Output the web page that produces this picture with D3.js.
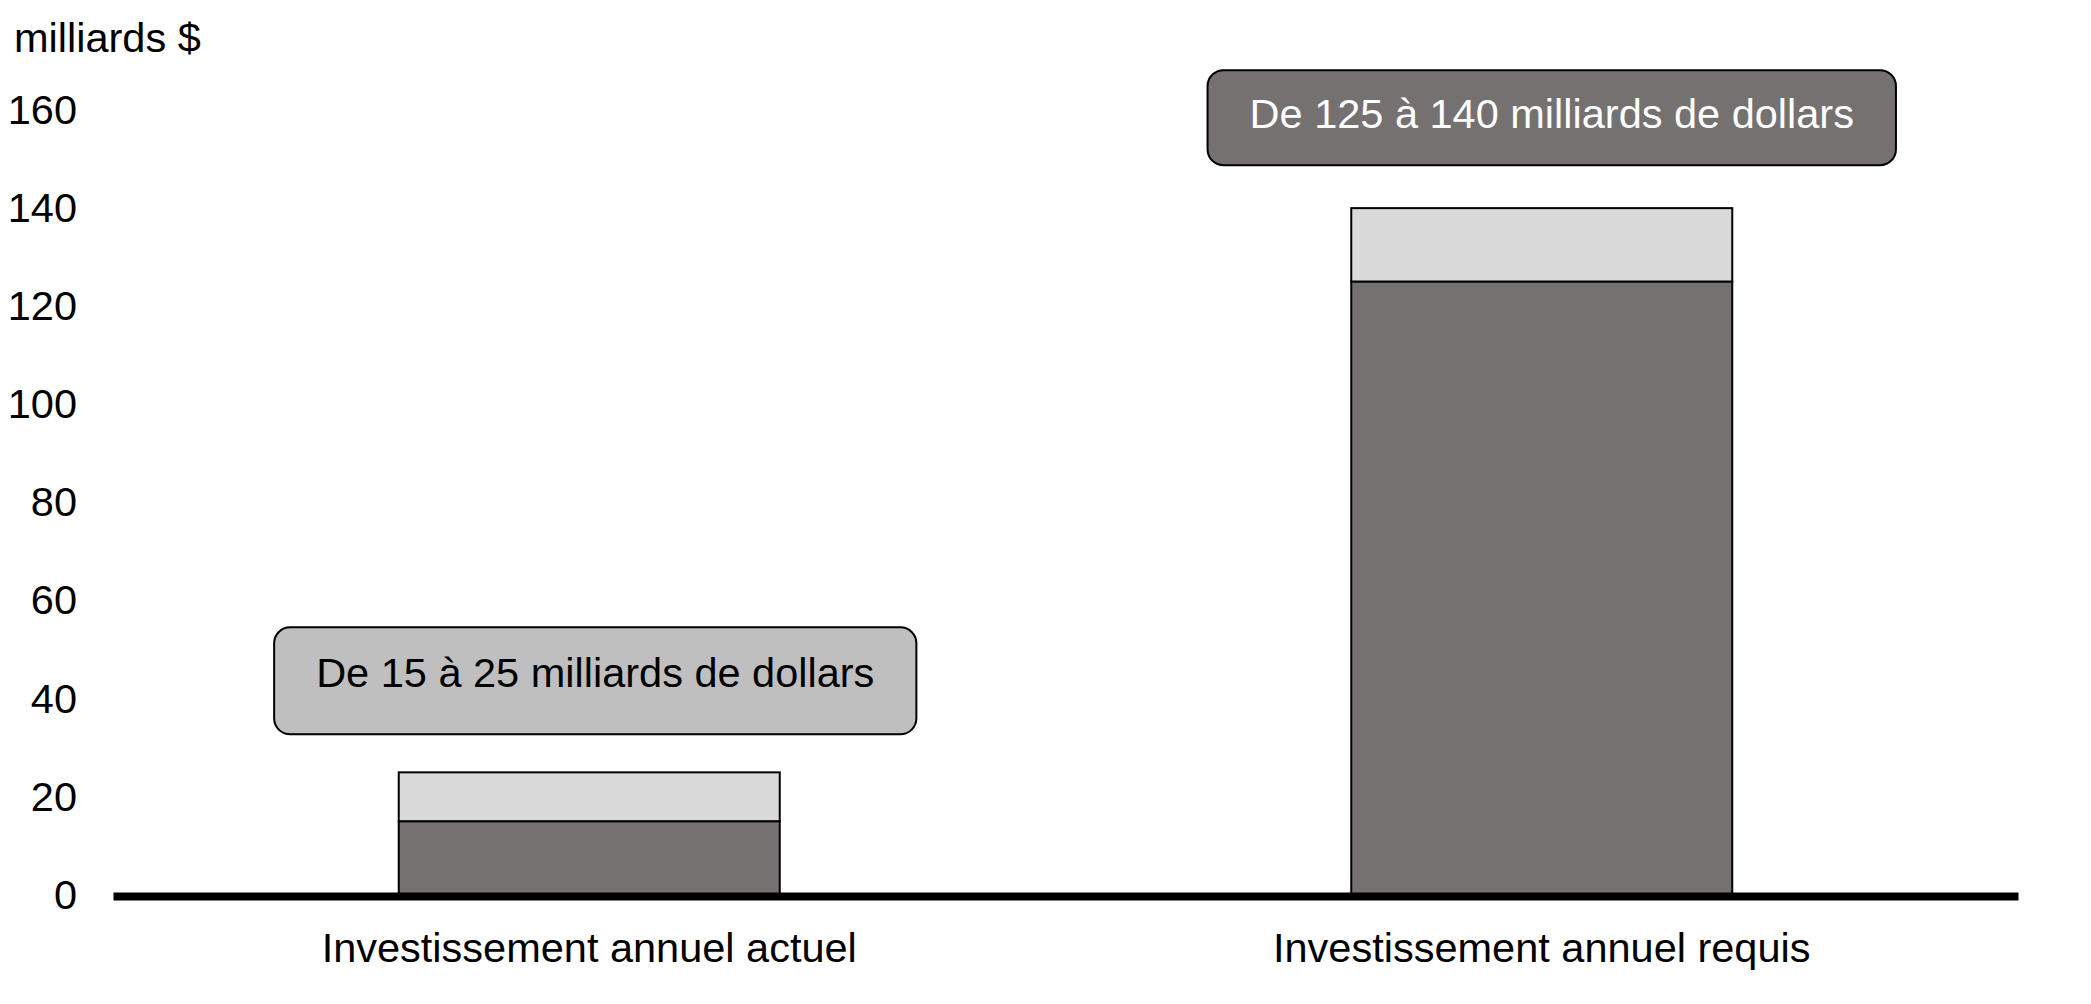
<!DOCTYPE html>
<html>
<head>
<meta charset="utf-8">
<script src="https://cdn.jsdelivr.net/npm/d3@7"></script>
<style>
  html, body { margin: 0; padding: 0; background: #ffffff; }
  svg { display: block; }
  text { font-family: "Liberation Sans", Arial, sans-serif; }
</style>
</head>
<body>
<svg id="chart" width="2091" height="1004"></svg>
<script>
// ---- Data ----
const categories = ["Investissement annuel actuel", "Investissement annuel requis"];
const lowValues = [15, 125];          // lower bound (dark segment)
const highValues = [25, 140];         // upper bound (top of light segment)
const rangeLabels = ["De 15 à 25 milliards de dollars", "De 125 à 140 milliards de dollars"];
const yTicks = [0, 20, 40, 60, 80, 100, 120, 140, 160];
const yUnitLabel = "milliards $";

// ---- Layout ----
const W = 2091, H = 1004;
const plotLeft = 113, plotRight = 2018;
const yZero = 895, yTop = 110;
const fontSize = 41.5;

const svg = d3.select("#chart");

const x = d3.scaleBand()
  .domain(categories)
  .range([plotLeft, plotRight])
  .paddingInner(0.6)
  .paddingOuter(0.3);

const y = d3.scaleLinear().domain([0, 160]).range([yZero, yTop]);

// Unit label
svg.append("text")
  .attr("x", 14).attr("y", 52)
  .attr("font-size", fontSize)
  .attr("fill", "#000")
  .text(yUnitLabel);

// Y axis (labels only)
const yAxis = svg.append("g")
  .attr("transform", `translate(${plotLeft},0)`)
  .call(d3.axisLeft(y).tickValues(yTicks).tickSize(0).tickPadding(36).tickFormat(d3.format("d")));
yAxis.select(".domain").remove();
yAxis.selectAll("text")
  .attr("font-size", fontSize)
  .attr("font-family", '"Liberation Sans", Arial, sans-serif')
  .attr("fill", "#000");

const rows = categories.map((c, i) => ({ c, lo: lowValues[i], hi: highValues[i], label: rangeLabels[i], i }));

// Upper (light) segment
svg.append("g").selectAll("rect.upper")
  .data(rows).join("rect")
  .attr("class", "upper")
  .attr("x", d => x(d.c))
  .attr("width", x.bandwidth())
  .attr("y", d => y(d.hi))
  .attr("height", d => y(d.lo) - y(d.hi))
  .attr("fill", "#d9d9d9")
  .attr("stroke", "#000")
  .attr("stroke-width", 2);

// Lower (dark) segment
svg.append("g").selectAll("rect.lower")
  .data(rows).join("rect")
  .attr("class", "lower")
  .attr("x", d => x(d.c))
  .attr("width", x.bandwidth())
  .attr("y", d => y(d.lo))
  .attr("height", d => y(0) - y(d.lo))
  .attr("fill", "#767171")
  .attr("stroke", "#000")
  .attr("stroke-width", 2);

// X axis with thick baseline
const xAxis = svg.append("g")
  .attr("transform", `translate(0,${yZero + 1})`)
  .call(d3.axisBottom(x).tickSize(0).tickSizeOuter(0).tickPadding(37));
xAxis.select(".domain")
  .attr("stroke", "#000")
  .attr("stroke-width", 8);
xAxis.selectAll("text")
  .attr("font-size", fontSize)
  .attr("font-family", '"Liberation Sans", Arial, sans-serif')
  .attr("fill", "#000");

// Range annotation boxes
const boxFill = ["#bfbfbf", "#767171"];
const boxText = ["#000000", "#ffffff"];
const boxGap = [38, 43], boxH = [107, 95], boxBase = [60, 58], boxShift = [6, 10];
const boxPadX = 42;

rows.forEach(d => {
  const g = svg.append("g");
  const cx = x(d.c) + x.bandwidth() / 2 + boxShift[d.i];
  const bottom = y(d.hi) - boxGap[d.i];
  const top = bottom - boxH[d.i];
  const rect = g.append("rect")
    .attr("rx", 16).attr("ry", 16)
    .attr("fill", boxFill[d.i])
    .attr("stroke", "#000")
    .attr("stroke-width", 2);
  const t = g.append("text")
    .attr("x", cx)
    .attr("y", top + boxBase[d.i])
    .attr("text-anchor", "middle")
    .attr("font-size", fontSize)
    .attr("fill", boxText[d.i])
    .text(d.label);
  const tw = t.node().getComputedTextLength();
  rect.attr("x", cx - tw / 2 - boxPadX)
    .attr("y", top)
    .attr("width", tw + 2 * boxPadX)
    .attr("height", boxH[d.i]);
});
</script>
</body>
</html>
